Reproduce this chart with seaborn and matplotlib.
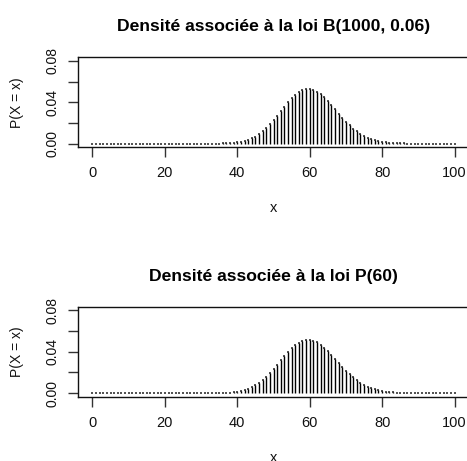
import matplotlib
matplotlib.use("Agg")
import matplotlib.pyplot as plt
import seaborn as sns
import numpy as np
import pandas as pd

# support 0..100
x_values = list(range(0, 101))

# P(X = x) for X ~ B(1000, 0.06), nonzero part starting at x = 31
binom_start = 31
binom_probs = [
    0.00001, 0.00002, 0.00003, 0.00006, 0.00011, 0.00018, 0.00030, 0.00049, 0.00077,  # 31-39
    0.00118, 0.00177, 0.00258, 0.00367, 0.00509, 0.00690, 0.00914, 0.01184, 0.01500, 0.01860,  # 40-49
    0.02258, 0.02685, 0.03128, 0.03571, 0.03997, 0.04388, 0.04726, 0.04996, 0.05185, 0.05284,  # 50-59
    0.05290, 0.05203, 0.05030, 0.04780, 0.04467, 0.04106, 0.03713, 0.03304, 0.02894, 0.02495,  # 60-69
    0.02118, 0.01771, 0.01458, 0.01183, 0.00946, 0.00746, 0.00579, 0.00444, 0.00335, 0.00250,  # 70-79
    0.00184, 0.00133, 0.00095, 0.00067, 0.00047, 0.00032, 0.00022, 0.00015, 0.00010, 0.00006,  # 80-89
    0.00004, 0.00003, 0.00002, 0.00001,  # 90-93
]

# P(X = x) for X ~ P(60), nonzero part starting at x = 30
pois_start = 30
pois_probs = [
    0.00001, 0.00002, 0.00003, 0.00005, 0.00009, 0.00015, 0.00024, 0.00039, 0.00062, 0.00096,  # 30-39
    0.00143, 0.00210, 0.00300, 0.00418, 0.00571, 0.00761, 0.00992, 0.01267, 0.01584, 0.01939,  # 40-49
    0.02327, 0.02738, 0.03159, 0.03576, 0.03973, 0.04335, 0.04644, 0.04889, 0.05057, 0.05143,  # 50-59
    0.05143, 0.05059, 0.04896, 0.04663, 0.04371, 0.04035, 0.03668, 0.03285, 0.02898, 0.02520,  # 60-69
    0.02160, 0.01826, 0.01521, 0.01250, 0.01014, 0.00811, 0.00640, 0.00499, 0.00384, 0.00291,  # 70-79
    0.00219, 0.00162, 0.00119, 0.00086, 0.00061, 0.00043, 0.00030, 0.00021, 0.00014, 0.00010,  # 80-89
    0.00006, 0.00004, 0.00003, 0.00002, 0.00001,  # 90-94
]

titles = ["Densité associée à la loi B(1000, 0.06)", "Densité associée à la loi P(60)"]
y_ticks = [0.00, 0.02, 0.04, 0.06, 0.08]
y_tick_labels = ["0.00", "", "0.04", "", "0.08"]
x_ticks = [0, 20, 40, 60, 80, 100]


def full_series(start, probs):
    p = [0.0] * len(x_values)
    for i, v in enumerate(probs):
        p[start + i] = v
    return pd.DataFrame({"x": x_values, "p": p})


frames = [full_series(binom_start, binom_probs), full_series(pois_start, pois_probs)]

sns.set_theme(style="white")
plt.rcParams["font.family"] = ["Liberation Sans", "DejaVu Sans"]

W, H = 467, 461
fig = plt.figure(figsize=(W / 100, H / 100), dpi=100)

# panel boxes in pixels: (left, top, right, bottom)
boxes = [(78, 57.5, 469, 147), (78, 307, 469, 396.5)]

for df, title, (l, t, r, b) in zip(frames, titles, boxes):
    ax = fig.add_axes([l / W, 1 - b / H, (r - l) / W, (b - t) / H])
    ax.vlines(df["x"], 0, df["p"], color="black", linewidth=1.0)
    # tiny end caps so that near-zero probabilities still show as dots
    sns.scatterplot(data=df, x="x", y="p", ax=ax, color="#555555", s=0.6,
                    linewidth=0, marker="s")
    ax.set_xlim(-4, 104)
    ax.set_ylim(-0.0032, 0.0832)
    ax.set_xticks(x_ticks)
    ax.set_xticklabels([str(v) for v in x_ticks], fontsize=10.5, color="#111111")
    ax.set_yticks(y_ticks)
    ax.set_yticklabels(y_tick_labels, fontsize=10, rotation=90, va="center",
                       color="#111111")
    ax.tick_params(axis="both", direction="out", length=7, width=1,
                   color="#333333", left=True, bottom=True)
    ax.tick_params(axis="x", pad=7)
    ax.tick_params(axis="y", pad=6)
    for side in ["left", "top", "bottom", "right"]:
        ax.spines[side].set_color("#111111")
        ax.spines[side].set_linewidth(1.0)
    ax.set_xlabel("x", fontsize=10.5, labelpad=15, color="#111111")
    ax.set_ylabel("P(X = x)", fontsize=10, labelpad=16, color="#111111")
    ax.set_title(title, fontsize=12.6, fontweight="bold", pad=19, color="black")

fig.savefig("out.png", dpi=100)
